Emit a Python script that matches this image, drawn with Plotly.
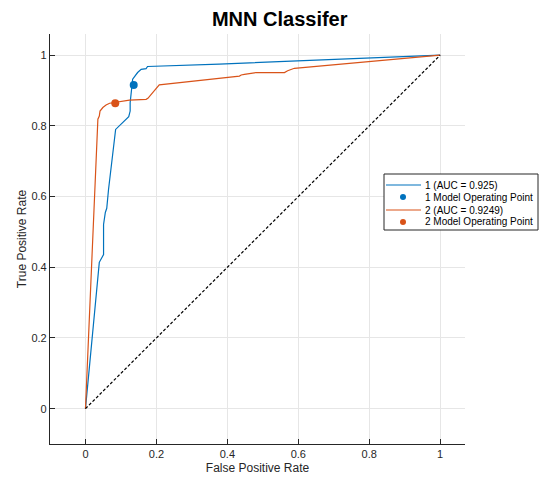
import plotly.graph_objects as go

# ROC curve points (false positive rate, true positive rate) for each model
fpr1 = [0, 0.039, 0.051, 0.051, 0.056, 0.060, 0.065, 0.072, 0.085, 0.122, 0.126,
        0.126, 0.129, 0.133, 0.147, 0.157, 0.171, 0.175, 0.377, 1.0]
tpr1 = [0, 0.414, 0.436, 0.521, 0.555, 0.567, 0.620, 0.677, 0.790, 0.826, 0.842,
        0.866, 0.894, 0.932, 0.951, 0.960, 0.962, 0.968, 0.975, 1.0]

fpr2 = [0, 0.035, 0.039, 0.041, 0.049, 0.058, 0.068, 0.124, 0.171, 0.176, 0.208,
        0.321, 0.434, 0.439, 0.448, 0.481, 0.561, 0.570, 0.589, 1.0]
tpr2 = [0, 0.819, 0.828, 0.842, 0.852, 0.859, 0.864, 0.873, 0.875, 0.878, 0.916,
        0.929, 0.941, 0.944, 0.946, 0.951, 0.951, 0.956, 0.963, 1.0]

# Model operating points
op1 = (0.136, 0.916)
op2 = (0.084, 0.864)

names = ["1 (AUC = 0.925)", "1 Model Operating Point",
         "2 (AUC = 0.9249)", "2 Model Operating Point"]
tick_vals = [0, 0.2, 0.4, 0.6, 0.8, 1]
tick_text = ["0", "0.2", "0.4", "0.6", "0.8", "1"]

BLUE = "#0072BD"
ORANGE = "#D95319"
FONT = "Liberation Sans, Arial, Helvetica, sans-serif"
AX = "#262626"

W, H = 539, 481
M_L, M_R, M_T, M_B = 50, 74, 34, 37
PW, PH = W - M_L - M_R, H - M_T - M_B


def px_x(px):
    """Pixel column -> paper x."""
    return (px - M_L) / PW


def px_y(py):
    """Pixel row -> paper y."""
    return (H - M_B - py) / PH


fig = go.Figure()
fig.add_trace(go.Scatter(x=fpr1, y=tpr1, mode="lines", name=names[0],
                         line=dict(color=BLUE, width=1.2)))
fig.add_trace(go.Scatter(x=[op1[0]], y=[op1[1]], mode="markers", name=names[1],
                         marker=dict(color=BLUE, size=8)))
fig.add_trace(go.Scatter(x=fpr2, y=tpr2, mode="lines", name=names[2],
                         line=dict(color=ORANGE, width=1.2)))
fig.add_trace(go.Scatter(x=[op2[0]], y=[op2[1]], mode="markers", name=names[3],
                         marker=dict(color=ORANGE, size=8)))
# chance line
fig.add_trace(go.Scatter(x=[0, 1], y=[0, 1], mode="lines", showlegend=False,
                         line=dict(color="black", width=1.2, dash="3px,2px")))

# Compact boxed legend drawn with shapes and annotations
shapes = [dict(type="rect", xref="paper", yref="paper",
               x0=px_x(384), x1=px_x(538), y0=px_y(230), y1=px_y(174),
               line=dict(color=AX, width=1), fillcolor="white", layer="above")]
annotations = []
row_y = [185, 197, 210, 222]
styles = [("line", BLUE), ("marker", BLUE), ("line", ORANGE), ("marker", ORANGE)]
for name, ry, (kind, col) in zip(names, row_y, styles):
    if kind == "line":
        shapes.append(dict(type="line", xref="paper", yref="paper",
                           x0=px_x(386), x1=px_x(421), y0=px_y(ry), y1=px_y(ry),
                           line=dict(color=col, width=1.2), layer="above"))
    else:
        shapes.append(dict(type="circle", xref="paper", yref="paper",
                           x0=px_x(400), x1=px_x(406), y0=px_y(ry + 3), y1=px_y(ry - 3),
                           line=dict(color=col, width=0), fillcolor=col, layer="above"))
    annotations.append(dict(text=name, xref="paper", yref="paper",
                            x=px_x(423), y=px_y(ry), xanchor="left", yanchor="middle",
                            showarrow=False,
                            font=dict(size=10, color="black", family=FONT)))

axis_common = dict(
    tickvals=tick_vals, ticktext=tick_text, showgrid=True, gridcolor="#e6e6e6",
    gridwidth=1, zeroline=False, showline=True, linecolor=AX, linewidth=1.2,
    ticks="inside", ticklen=5, tickcolor=AX, tickfont=dict(size=11, color=AX),
    mirror=False, automargin=False,
)

fig.update_layout(
    width=W, height=H,
    margin=dict(l=M_L, r=M_R, t=M_T, b=M_B),
    paper_bgcolor="white", plot_bgcolor="white",
    font=dict(family=FONT, color=AX),
    title=dict(text="<b>MNN Classifer</b>", x=0.519, xanchor="center",
               y=0.96, yanchor="middle",
               font=dict(size=20, color="black", family=FONT)),
    xaxis=dict(range=[-0.1, 1.07], title=dict(text="False Positive Rate",
               font=dict(size=12, color=AX), standoff=4), **axis_common),
    yaxis=dict(range=[-0.1, 1.06], title=dict(text="True Positive Rate",
               font=dict(size=12, color=AX), standoff=2), **axis_common),
    shapes=shapes,
    annotations=annotations,
    showlegend=False,
)

fig.write_html("out.html")
